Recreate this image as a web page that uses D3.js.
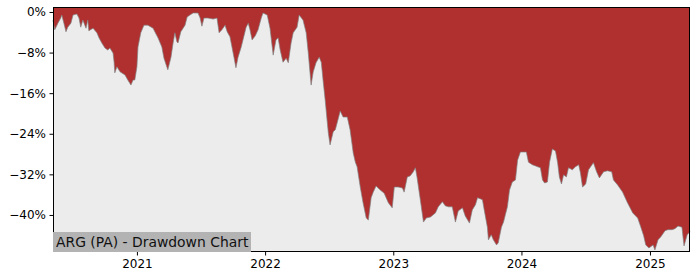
<!DOCTYPE html>
<html><head><meta charset="utf-8">
<script src="https://cdn.jsdelivr.net/npm/d3@7"></script>
<style>body{margin:0;background:#fff}svg{display:block}text{font-family:"DejaVu Sans",sans-serif}</style>
</head><body><svg id="c" width="700" height="280"></svg>
<script>
const title = "ARG (PA) - Drawdown Chart";
const yTicks = [0, -8, -16, -24, -32, -40];
const xTickYears = ["2021", "2022", "2023", "2024", "2025"];
const dates = [
"2020-05-07","2020-05-12","2020-05-21","2020-05-29","2020-06-01","2020-06-07","2020-06-13","2020-06-18","2020-06-27","2020-07-03",
"2020-07-14","2020-07-20","2020-07-25","2020-07-31","2020-08-09","2020-08-14","2020-08-17","2020-08-29","2020-09-09","2020-09-15",
"2020-09-23","2020-10-02","2020-10-10","2020-10-16","2020-10-25","2020-10-28","2020-10-30","2020-11-05","2020-11-14","2020-11-28",
"2020-12-06","2020-12-15","2020-12-21","2020-12-26",
"2021-01-01","2021-01-04","2021-01-12","2021-01-21","2021-02-01","2021-02-16","2021-02-21","2021-03-02","2021-03-13","2021-03-19",
"2021-03-28","2021-03-30","2021-04-08","2021-04-14","2021-04-19","2021-04-25","2021-04-28","2021-05-06","2021-05-18","2021-05-24",
"2021-06-01","2021-06-10","2021-06-24","2021-06-30","2021-07-05","2021-07-11","2021-07-22","2021-08-06","2021-08-17","2021-08-23",
"2021-08-31","2021-09-09","2021-09-15","2021-09-23","2021-10-02","2021-10-10","2021-10-16","2021-10-25","2021-10-30","2021-11-08",
"2021-11-14","2021-11-19","2021-11-25","2021-12-04","2021-12-12","2021-12-21","2021-12-26",
"2022-01-07","2022-01-15","2022-01-24","2022-02-01","2022-02-07","2022-02-13","2022-02-21","2022-03-02","2022-03-08","2022-03-16",
"2022-03-22","2022-04-02","2022-04-08","2022-04-19","2022-04-28","2022-05-04","2022-05-12","2022-05-18","2022-05-26","2022-06-04",
"2022-06-10","2022-06-15","2022-06-21","2022-06-27","2022-06-30","2022-07-05","2022-07-14","2022-07-20","2022-07-25","2022-08-03",
"2022-08-11","2022-08-23","2022-08-31","2022-09-09","2022-09-15","2022-09-20","2022-09-29","2022-10-07","2022-10-16","2022-10-22",
"2022-10-30","2022-11-05","2022-11-13","2022-11-25","2022-12-06","2022-12-18","2022-12-29",
"2023-01-04","2023-01-15","2023-01-27","2023-02-01","2023-02-10","2023-02-18","2023-02-27","2023-03-05","2023-03-10","2023-03-19",
"2023-03-28","2023-04-05","2023-04-17","2023-05-01","2023-05-09","2023-05-21","2023-05-29","2023-06-07","2023-06-18","2023-06-27",
"2023-07-05","2023-07-17","2023-07-25","2023-08-06","2023-08-14","2023-08-23","2023-08-29","2023-09-12","2023-09-17","2023-09-26",
"2023-09-29","2023-10-07","2023-10-13","2023-10-22","2023-10-27","2023-11-05","2023-11-11","2023-11-16","2023-11-22","2023-11-28",
"2023-12-06","2023-12-15","2023-12-21","2023-12-29",
"2024-01-07","2024-01-15","2024-01-21","2024-02-01","2024-02-16","2024-02-24","2024-03-01","2024-03-07","2024-03-15","2024-03-21",
"2024-03-29","2024-04-07","2024-04-13","2024-04-18","2024-04-24","2024-04-30","2024-05-08","2024-05-14","2024-05-25","2024-06-03",
"2024-06-12","2024-06-17","2024-06-23","2024-07-02","2024-07-10","2024-07-24","2024-08-02","2024-08-10","2024-08-22","2024-09-02",
"2024-09-14","2024-09-19","2024-10-01","2024-10-15","2024-10-29","2024-11-13","2024-11-27","2024-12-05","2024-12-14","2024-12-20",
"2024-12-29",
"2025-01-10","2025-01-15","2025-01-24","2025-02-01","2025-02-13","2025-02-21","2025-03-05","2025-03-13","2025-03-22","2025-04-02",
"2025-04-08","2025-04-17","2025-04-25"
];
const drawdown = [
-1.6,-3.5,-2.2,-1.2,-0.6,-2.2,-3.9,-3.0,-2.2,-0.6,
-0.4,-1.2,-3.0,-1.6,-3.2,-1.6,-3.7,-3.2,-4.1,-5.1,
-6.1,-7.1,-7.5,-7.1,-8.1,-9.9,-12.0,-10.8,-11.8,-12.4,
-13.4,-14.4,-13.4,-13.4,
-10.8,-6.9,-4.1,-2.6,-2.6,-3.2,-3.9,-5.1,-6.9,-9.1,
-11.0,-11.4,-8.9,-6.1,-4.1,-5.9,-6.1,-3.9,-2.6,-1.0,
-0.6,-0.2,-0.2,-1.2,-2.8,-1.2,-1.2,-1.4,-1.2,-4.1,
-3.5,-2.6,-3.9,-4.9,-8.1,-11.0,-8.9,-6.9,-5.5,-3.0,
-2.2,-3.5,-5.5,-4.7,-3.5,-1.2,-0.2,
-0.6,-3.2,-8.5,-5.5,-5.1,-7.5,-9.9,-9.1,-10.0,-6.1,
-4.1,-3.0,-0.6,-1.6,-4.1,-8.1,-14.4,-11.8,-10.0,-8.9,
-9.9,-13.4,-17.3,-21.7,-23.8,-26.2,-23.6,-23.2,-21.9,-19.5,
-20.7,-20.7,-23.2,-27.8,-29.6,-30.5,-34.5,-37.6,-40.6,-41.0,
-36.6,-35.5,-34.3,-35.1,-35.7,-37.6,-38.6,
-34.5,-34.5,-34.7,-35.5,-32.5,-32.3,-31.5,-30.7,-32.7,-37.0,
-41.4,-40.6,-40.4,-39.6,-38.4,-37.4,-38.2,-38.4,-38.4,-41.4,
-39.2,-38.6,-40.2,-41.6,-39.0,-38.0,-36.6,-37.0,-39.0,-42.4,
-44.9,-43.9,-44.9,-45.9,-45.5,-42.4,-41.4,-40.0,-38.4,-35.1,
-33.5,-33.1,-29.2,-27.6,
-27.6,-27.6,-29.6,-30.1,-30.5,-30.7,-33.1,-33.7,-33.5,-29.6,
-27.0,-27.4,-29.7,-32.5,-33.9,-32.1,-32.5,-30.7,-31.1,-30.5,
-30.1,-31.7,-34.5,-33.9,-31.1,-29.7,-31.5,-32.7,-31.5,-31.3,
-31.5,-33.1,-34.1,-35.5,-37.6,-39.6,-40.6,-42.2,-44.1,-45.9,
-46.5,
-45.9,-46.9,-44.9,-44.3,-43.1,-42.9,-42.9,-42.7,-42.2,-42.4,
-46.1,-43.9,-43.3
];

const parse = d3.timeParse("%Y-%m-%d");
const data = dates.map((d, i) => ({ date: parse(d), v: drawdown[i] }));

const L = 53, R = 690, T = 7, B = 252;
const svg = d3.select("#c");

const x = d3.scaleTime().domain(d3.extent(data, d => d.date)).range([L, R]);
const y = d3.scaleLinear().domain([-47.3, 0.98]).range([B, T]);

svg.append("rect").attr("x", L).attr("y", T).attr("width", R - L).attr("height", B - T).attr("fill", "#ececec");

const area = d3.area().x(d => x(d.date)).y0(T).y1(d => y(d.v));
svg.append("path").datum(data).attr("d", area).attr("fill", "#b03030");

const line = d3.line().x(d => x(d.date)).y(d => y(d.v));
svg.append("path").datum(data).attr("d", line).attr("fill", "none")
  .attr("stroke", "#808080").attr("stroke-width", 0.9).attr("stroke-opacity", 0.75);

// frame
svg.append("rect").attr("x", L + 0.5).attr("y", T + 0.5).attr("width", R - L - 1).attr("height", B - T - 1)
  .attr("fill", "none").attr("stroke", "#000").attr("stroke-width", 1);

// title box
const tg = svg.append("g");
tg.append("rect").attr("x", L).attr("y", 232).attr("width", 251 - L).attr("height", B - 232)
  .attr("fill", "#b3b3b3");
tg.append("text").attr("x", 56).attr("y", 247).attr("font-size", 13.9).attr("fill", "#111").text(title);

// axes
const fmt = d => d === 0 ? "0%" : "\u2212" + Math.abs(d) + "%";
const ya = svg.append("g").attr("transform", `translate(${L},0)`)
  .call(d3.axisLeft(y).tickValues(yTicks).tickFormat(fmt).tickSize(3.5).tickPadding(3.5));
ya.select(".domain").remove();
ya.selectAll("text").attr("font-size", 12).attr("font-family", "DejaVu Sans").attr("fill", "#000");
ya.selectAll("line").attr("stroke", "#000");

const xTickDates = xTickYears.map(s => parse(s + "-01-01"));
const xa = svg.append("g").attr("transform", `translate(0,${B})`)
  .call(d3.axisBottom(x).tickValues(xTickDates).tickFormat(d3.timeFormat("%Y")).tickSize(3.5).tickPadding(3.5));
xa.select(".domain").remove();
xa.selectAll("text").attr("font-size", 12).attr("font-family", "DejaVu Sans").attr("fill", "#000");
xa.selectAll("line").attr("stroke", "#000");
</script></body></html>
